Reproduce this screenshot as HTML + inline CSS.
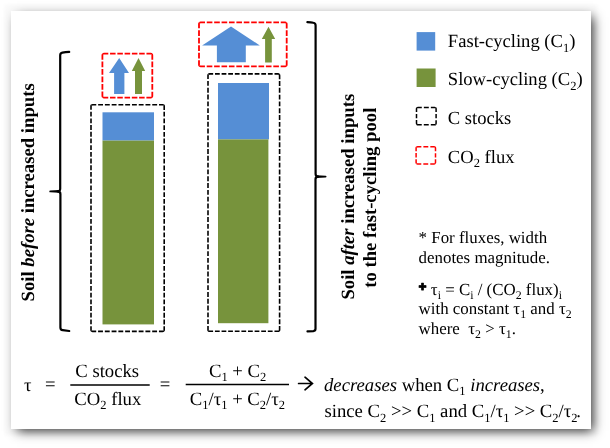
<!DOCTYPE html>
<html><head><meta charset="utf-8">
<style>
html,body{margin:0;padding:0;background:#fff;}
body{width:610px;height:448px;position:relative;overflow:hidden;}
#card{position:absolute;left:11px;top:11px;width:580px;height:418px;background:#fff;box-shadow:4px 4px 11px -2px rgba(0,0,0,0.82), -0.4px -0.4px 3.5px 7px rgba(0,0,0,0.022);}
svg{position:absolute;left:0;top:0;will-change:transform;}
text{font-family:"Liberation Serif",serif;fill:#000;text-rendering:geometricPrecision;}
.b{font-weight:bold;}
</style></head><body>
<div id="card"></div>
<svg width="610" height="448" viewBox="0 0 610 448">
    <path d="M69.2 51.9 Q65.5 52.2 62.4 52.65 Q60.2 53.0 60.2 55.3 L60.2 188.8 Q60.2 191.4 57.6 191.4 M57.6 191.4 Q60.4 191.4 60.4 194 L60.4 327.4 Q60.4 329.9 62.8 330.2 L69.2 331.0" fill="none" stroke="#000" stroke-width="2.2" stroke-linecap="round" stroke-linejoin="round"/>
  <path d="M59 190.1 L50.2 190.5 Q49.3 190.6 49.3 191.4 Q49.3 192.2 50.2 192.3 L59 192.7 Z" fill="#000"/>
  <path d="M307.4 22.1 Q311 22.3 313.4 22.75 Q315.6 23.1 315.6 25.4 L315.6 174 Q315.6 176.6 318.2 176.6 M318.2 176.6 Q315.5 176.6 315.5 179.2 L315.5 328.8 Q315.5 330.9 313.3 331.1 L307.5 331.4" fill="none" stroke="#000" stroke-width="2.2" stroke-linecap="round" stroke-linejoin="round"/>
  <path d="M316.5 175.3 L325.6 175.7 Q326.5 175.8 326.5 176.6 Q326.5 177.4 325.6 177.5 L316.5 177.9 Z" fill="#000"/>
  <path d="M91.47 105.17 A1.6 1.6 0 0 1 92.60 104.70 L162.60 104.70 A1.6 1.6 0 0 1 163.73 105.17" stroke="#000" stroke-width="1.6" stroke-dasharray="4.874 1.890" fill="none"/>
  <path d="M163.73 105.17 A1.6 1.6 0 0 1 164.20 106.30 L164.20 329.80 A1.6 1.6 0 0 1 163.73 330.93" stroke="#000" stroke-width="1.6" stroke-dasharray="4.830 1.873" fill="none"/>
  <path d="M163.73 330.93 A1.6 1.6 0 0 1 162.60 331.40 L92.60 331.40 A1.6 1.6 0 0 1 91.47 330.93" stroke="#000" stroke-width="1.6" stroke-dasharray="4.874 1.890" fill="none"/>
  <path d="M91.47 330.93 A1.6 1.6 0 0 1 91.00 329.80 L91.00 106.30 A1.6 1.6 0 0 1 91.47 105.17" stroke="#000" stroke-width="1.6" stroke-dasharray="4.830 1.873" fill="none"/>
  <rect x="102.5" y="112.3" width="51.5" height="28.3" fill="#558ED5"/>
  <rect x="102.5" y="140.6" width="51.5" height="183.8" fill="#77933C"/>
  <path d="M102.87 54.07 A1.6 1.6 0 0 1 104.00 53.60 L150.70 53.60 A1.6 1.6 0 0 1 151.83 54.07" stroke="#FF0000" stroke-width="1.8" stroke-dasharray="5.536 1.743" fill="none"/>
  <path d="M151.83 54.07 A1.6 1.6 0 0 1 152.30 55.20 L152.30 96.10 A1.6 1.6 0 0 1 151.83 97.23" stroke="#FF0000" stroke-width="1.8" stroke-dasharray="5.732 1.804" fill="none"/>
  <path d="M151.83 97.23 A1.6 1.6 0 0 1 150.70 97.70 L104.00 97.70 A1.6 1.6 0 0 1 102.87 97.23" stroke="#FF0000" stroke-width="1.8" stroke-dasharray="5.536 1.743" fill="none"/>
  <path d="M102.87 97.23 A1.6 1.6 0 0 1 102.40 96.10 L102.40 55.20 A1.6 1.6 0 0 1 102.87 54.07" stroke="#FF0000" stroke-width="1.8" stroke-dasharray="5.732 1.804" fill="none"/>
  <path d="M119.2 58.1 L129 72.9 L124.4 72.9 L124.4 93.9 L114.1 93.9 L114.1 72.9 L109 72.9 Z" fill="#558ED5"/>
  <path d="M138.5 58.1 L145.2 70.9 L142 70.9 L142 93.9 L135 93.9 L135 70.9 L131.8 70.9 Z" fill="#77933C"/>
  <path d="M208.47 74.32 A1.6 1.6 0 0 1 209.60 73.85 L278.00 73.85 A1.6 1.6 0 0 1 279.13 74.32" stroke="#000" stroke-width="1.6" stroke-dasharray="4.766 1.848" fill="none"/>
  <path d="M279.13 74.32 A1.6 1.6 0 0 1 279.60 75.45 L279.60 329.70 A1.6 1.6 0 0 1 279.13 330.83" stroke="#000" stroke-width="1.6" stroke-dasharray="4.905 1.902" fill="none"/>
  <path d="M279.13 330.83 A1.6 1.6 0 0 1 278.00 331.30 L209.60 331.30 A1.6 1.6 0 0 1 208.47 330.83" stroke="#000" stroke-width="1.6" stroke-dasharray="4.766 1.848" fill="none"/>
  <path d="M208.47 330.83 A1.6 1.6 0 0 1 208.00 329.70 L208.00 75.45 A1.6 1.6 0 0 1 208.47 74.32" stroke="#000" stroke-width="1.6" stroke-dasharray="4.905 1.902" fill="none"/>
  <rect x="218" y="83" width="51.0" height="56.4" fill="#558ED5"/>
  <rect x="218" y="139.4" width="50.4" height="183.8" fill="#77933C"/>
  <path d="M199.47 22.77 A1.6 1.6 0 0 1 200.60 22.30 L285.10 22.30 A1.6 1.6 0 0 1 286.23 22.77" stroke="#FF0000" stroke-width="1.8" stroke-dasharray="5.627 1.772" fill="none"/>
  <path d="M286.23 22.77 A1.6 1.6 0 0 1 286.70 23.90 L286.70 64.80 A1.6 1.6 0 0 1 286.23 65.93" stroke="#FF0000" stroke-width="1.8" stroke-dasharray="5.732 1.804" fill="none"/>
  <path d="M286.23 65.93 A1.6 1.6 0 0 1 285.10 66.40 L200.60 66.40 A1.6 1.6 0 0 1 199.47 65.93" stroke="#FF0000" stroke-width="1.8" stroke-dasharray="5.627 1.772" fill="none"/>
  <path d="M199.47 65.93 A1.6 1.6 0 0 1 199.00 64.80 L199.00 23.90 A1.6 1.6 0 0 1 199.47 22.77" stroke="#FF0000" stroke-width="1.8" stroke-dasharray="5.732 1.804" fill="none"/>
  <path d="M231 26.5 L259.8 45.4 L245.8 45.4 L245.8 62.35 L216.9 62.35 L216.9 45.4 L202.1 45.4 Z" fill="#558ED5"/>
  <path d="M268.5 26.8 L275.2 39 L271.8 39 L271.8 62.4 L265.1 62.4 L265.1 39 L261.8 39 Z" fill="#77933C"/>
  <text class="b" font-size="18.7" text-anchor="middle" transform="translate(33.8 192.4) rotate(-90)">Soil <tspan font-style="italic">before</tspan> increased inputs</text>
  <text class="b" font-size="18.7" text-anchor="middle" transform="translate(353.6 196.7) rotate(-90)">Soil <tspan font-style="italic">after</tspan> increased inputs</text>
  <text class="b" font-size="18.7" text-anchor="middle" transform="translate(375.8 197.7) rotate(-90)">to the fast-cycling pool</text>
  <rect x="416.6" y="32.1" width="18.6" height="18.5" fill="#558ED5"/>
  <rect x="416.6" y="68.5" width="19.0" height="18.5" fill="#77933C"/>
  <path d="M416.94 107.84 A1.5 1.5 0 0 1 418.00 107.40 L434.60 107.40 A1.5 1.5 0 0 1 435.66 107.84" stroke="#000" stroke-width="1.5" stroke-dasharray="4.945 2.060" fill="none"/>
  <path d="M435.66 107.84 A1.5 1.5 0 0 1 436.10 108.90 L436.10 123.30 A1.5 1.5 0 0 1 435.66 124.36" stroke="#000" stroke-width="1.5" stroke-dasharray="4.371 1.821" fill="none"/>
  <path d="M435.66 124.36 A1.5 1.5 0 0 1 434.60 124.80 L418.00 124.80 A1.5 1.5 0 0 1 416.94 124.36" stroke="#000" stroke-width="1.5" stroke-dasharray="4.945 2.060" fill="none"/>
  <path d="M416.94 124.36 A1.5 1.5 0 0 1 416.50 123.30 L416.50 108.90 A1.5 1.5 0 0 1 416.94 107.84" stroke="#000" stroke-width="1.5" stroke-dasharray="4.371 1.821" fill="none"/>
  <path d="M416.54 147.14 A1.5 1.5 0 0 1 417.60 146.70 L434.00 146.70 A1.5 1.5 0 0 1 435.06 147.14" stroke="#FF0000" stroke-width="1.5" stroke-dasharray="4.893 2.039" fill="none"/>
  <path d="M435.06 147.14 A1.5 1.5 0 0 1 435.50 148.20 L435.50 162.40 A1.5 1.5 0 0 1 435.06 163.46" stroke="#FF0000" stroke-width="1.5" stroke-dasharray="4.319 1.800" fill="none"/>
  <path d="M435.06 163.46 A1.5 1.5 0 0 1 434.00 163.90 L417.60 163.90 A1.5 1.5 0 0 1 416.54 163.46" stroke="#FF0000" stroke-width="1.5" stroke-dasharray="4.893 2.039" fill="none"/>
  <path d="M416.54 163.46 A1.5 1.5 0 0 1 416.10 162.40 L416.10 148.20 A1.5 1.5 0 0 1 416.54 147.14" stroke="#FF0000" stroke-width="1.5" stroke-dasharray="4.319 1.800" fill="none"/>
  <g font-size="18.6">
  <text x="447.8" y="47.1">Fast-cycling (C<tspan font-size="12.5" dy="4.7">1</tspan><tspan dy="-4.7">)</tspan></text>
  <text x="447.8" y="85.0">Slow-cycling (C<tspan font-size="12.5" dy="4.7">2</tspan><tspan dy="-4.7">)</tspan></text>
  <text x="447.8" y="123.6">C stocks</text>
  <text x="447.8" y="162.6">CO<tspan font-size="12.5" dy="4.7">2</tspan><tspan dy="-4.7"> flux</tspan></text>
  </g>
  <g font-size="16.9">
  <text x="418.6" y="243">* For fluxes, width</text>
  <text x="418.6" y="263.4">denotes magnitude.</text>
  <text x="418.6" y="294.9"><tspan font-family="DejaVu Sans" font-weight="bold" font-size="9.6" dy="-5.1" stroke="#000" stroke-width="0.75" stroke-linejoin="round">✚</tspan><tspan dy="5.1"> τ</tspan><tspan font-size="11.8" dy="4.3">i</tspan><tspan dy="-4.3"> = C</tspan><tspan font-size="11.8" dy="4.3">i</tspan><tspan dy="-4.3"> / (CO</tspan><tspan font-size="11.8" dy="4.3">2</tspan><tspan dy="-4.3"> flux)</tspan><tspan font-size="11.8" dy="4.3">i</tspan></text>
  <text x="418.6" y="313.8">with constant τ<tspan font-size="11.8" dy="4.3">1</tspan><tspan dy="-4.3"> and τ</tspan><tspan font-size="11.8" dy="4.3">2</tspan></text>
  <text x="418.6" y="333.6" xml:space="preserve">where  τ<tspan font-size="11.8" dy="4.3">2</tspan><tspan dy="-4.3"> &gt; τ</tspan><tspan font-size="11.8" dy="4.3">1</tspan><tspan dy="-4.3">.</tspan></text>
  </g>
  <g font-size="18.7">
  <text x="24.0" y="390.8">τ</text>
  <text x="45" y="390">=</text>
  <line x1="70.3" y1="385" x2="149.7" y2="385" stroke="#000" stroke-width="1.6"/>
  <text x="107.2" y="376.6" text-anchor="middle">C stocks</text>
  <text x="107.8" y="404.7" text-anchor="middle">CO<tspan font-size="12.5" dy="4.7">2</tspan><tspan dy="-4.7"> flux</tspan></text>
  <text x="159.8" y="390">=</text>
  <line x1="185.7" y1="384.5" x2="289" y2="384.5" stroke="#000" stroke-width="1.6"/>
  <text x="237.6" y="376.6" text-anchor="middle">C<tspan font-size="12.5" dy="4.7">1</tspan><tspan dy="-4.7"> + C</tspan><tspan font-size="12.5" dy="4.7">2</tspan></text>
  <text x="237.4" y="404.7" text-anchor="middle">C<tspan font-size="12.5" dy="4.7">1</tspan><tspan dy="-4.7">/τ</tspan><tspan font-size="12.5" dy="4.7">1</tspan><tspan dy="-4.7"> + C</tspan><tspan font-size="12.5" dy="4.7">2</tspan><tspan dy="-4.7">/τ</tspan><tspan font-size="12.5" dy="4.7">2</tspan></text>
  <path d="M298.6 383.5 L312.2 383.5 M305 377.2 L312.4 383.5 L305 389.8" fill="none" stroke="#000" stroke-width="1.7" stroke-linecap="round" stroke-linejoin="miter"/>
  <text x="324" y="390.6"><tspan font-style="italic">decreases</tspan> when C<tspan font-size="12.5" dy="4.7">1</tspan><tspan dy="-4.7" font-style="italic"> increases</tspan>,</text>
  <text x="324.5" y="417">since C<tspan font-size="12.5" dy="4.7">2</tspan><tspan dy="-4.7"> &gt;&gt; C</tspan><tspan font-size="12.5" dy="4.7">1</tspan><tspan dy="-4.7"> and C</tspan><tspan font-size="12.5" dy="4.7">1</tspan><tspan dy="-4.7">/τ</tspan><tspan font-size="12.5" dy="4.7">1</tspan><tspan dy="-4.7"> &gt;&gt; C</tspan><tspan font-size="12.5" dy="4.7">2</tspan><tspan dy="-4.7">/τ</tspan><tspan font-size="12.5" dy="4.7">2</tspan><tspan dy="-4.7" dx="-1.2">.</tspan></text>
  </g>
</svg>
</body></html>
